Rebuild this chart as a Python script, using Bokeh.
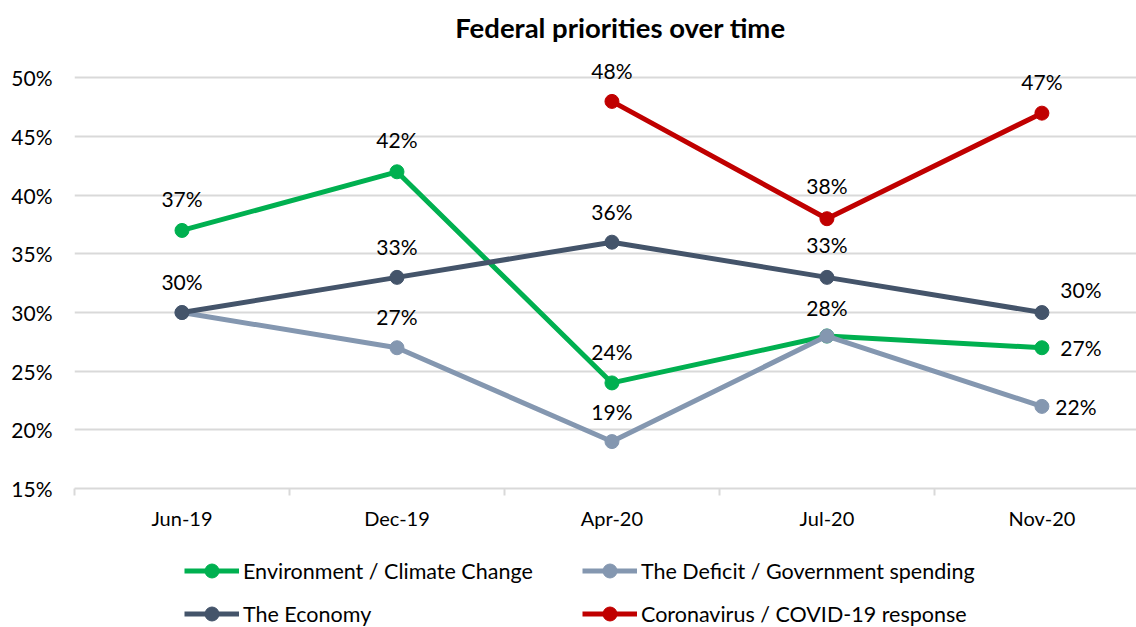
from bokeh.plotting import figure
from bokeh.layouts import column
from bokeh.models import (ColumnDataSource, FixedTicker, Legend, LegendItem, Range1d)
from bokeh.core.properties import value
from bokeh.embed import file_html
from bokeh.resources import INLINE

title_text = "Federal priorities over time"
categories = ["Jun-19", "Dec-19", "Apr-20", "Jul-20", "Nov-20"]
env = [37, 42, 24, 28, 27]
deficit = [30, 27, 19, 28, 22]
economy = [30, 33, 36, 33, 30]
covid = [None, None, 48, 38, 47]
y_ticks = [15, 20, 25, 30, 35, 40, 45, 50]

series = [
    ("Environment / Climate Change", env, "#00B050"),
    ("The Deficit / Government spending", deficit, "#8497B0"),
    ("The Economy", economy, "#44546A"),
    ("Coronavirus / COVID-19 response", covid, "#C00000"),
]

FONT = "Lato"
TOTAL_W = 1136


def blank_strip(height):
    f = figure(width=TOTAL_W, height=height, output_backend="svg", toolbar_location=None,
               x_range=Range1d(0, TOTAL_W), y_range=Range1d(height, 0),
               x_axis_location=None, y_axis_location=None,
               min_border_left=0, min_border_right=0, min_border_top=0, min_border_bottom=0,
               outline_line_color=None, background_fill_color="white",
               border_fill_color="white")
    f.grid.visible = False
    return f


# ---- title strip
pt = blank_strip(50)
pt.text(x=[584], y=[27], text=[title_text], text_align="center", text_baseline="middle",
        text_font=value(FONT), text_font_style="bold", text_font_size="27.5px",
        text_color="#000000")

# ---- main chart
p = figure(frame_width=1062, frame_height=434, output_backend="svg", toolbar_location=None,
           x_range=Range1d(-0.5, 4.44), y_range=Range1d(15, 52),
           min_border_left=74, min_border_right=0, min_border_top=4,
           min_border_bottom=52, background_fill_color="white",
           border_fill_color="white", outline_line_color=None)

p.yaxis.ticker = FixedTicker(ticks=y_ticks)
p.yaxis.major_label_overrides = {t: f"{t}%" for t in y_ticks}
p.yaxis.axis_line_color = None
p.yaxis.major_tick_line_color = None
p.yaxis.minor_tick_line_color = None
p.yaxis.major_label_standoff = 16
p.yaxis.major_label_text_font = FONT
p.yaxis.major_label_text_font_size = "21px"
p.yaxis.major_label_text_color = "#000000"

xs = list(range(len(categories)))
p.xaxis.ticker = FixedTicker(ticks=xs, minor_ticks=[i - 0.5 for i in range(len(categories) + 1)])
p.xaxis.major_label_overrides = {i: c for i, c in enumerate(categories)}
p.xaxis.axis_line_color = "#d9d9d9"
p.xaxis.axis_line_width = 2
p.xaxis.major_tick_line_color = None
p.xaxis.minor_tick_line_color = "#d9d9d9"
p.xaxis.minor_tick_line_width = 2
p.xaxis.minor_tick_out = 7
p.xaxis.minor_tick_in = 0
p.xaxis.major_label_standoff = 10
p.xaxis.major_label_text_font = FONT
p.xaxis.major_label_text_font_size = "20px"
p.xaxis.major_label_text_color = "#000000"

p.xgrid.grid_line_color = None
p.ygrid.ticker = FixedTicker(ticks=y_ticks[1:])
p.ygrid.grid_line_color = "#d9d9d9"
p.ygrid.grid_line_width = 2

for name, vals, color in series:
    xx = [x for x, v in zip(xs, vals) if v is not None]
    yy = [v for v in vals if v is not None]
    src = ColumnDataSource(dict(x=xx, y=yy))
    p.line("x", "y", source=src, line_color=color, line_width=5)
    p.scatter("x", "y", source=src, size=14, fill_color=color, line_color=color)

# data labels (offsets in screen px)
label_specs = {
    0: [(0, -32, True), (0, -32, True), (0, -31, True), (0, 0, False), (39, 0, True)],
    1: [(0, 0, False), (0, -31, True), (0, -30, True), (0, -29, True), (34, 0, True)],
    2: [(0, -31, True), (0, -31, True), (0, -31, True), (0, -33, True), (39, -23, True)],
    3: [(0, 0, False), (0, 0, False), (0, -31, True), (0, -33, True), (0, -32, True)],
}
lx, ly, lt, lxo, lyo = [], [], [], [], []
for si, (name, vals, color) in enumerate(series):
    for i, v in enumerate(vals):
        xo, yo, show = label_specs[si][i]
        if v is None or not show:
            continue
        lx.append(i); ly.append(v); lt.append(f"{v}%"); lxo.append(xo); lyo.append(yo)
lsrc = ColumnDataSource(dict(x=lx, y=ly, text=lt, xo=lxo, yo=lyo))
p.text("x", "y", text="text", source=lsrc, x_offset="xo", y_offset="yo",
       text_align="center", text_baseline="middle", text_font=value(FONT),
       text_font_size="21px", text_color="#000000")

# ---- legend strip
p2 = blank_strip(87)
items = []
for name, vals, color in series:
    hidden = ColumnDataSource(dict(x=[-100], y=[-100]))
    r1 = p2.line("x", "y", source=hidden, line_color=color, line_width=5)
    r2 = p2.scatter("x", "y", source=hidden, size=14, fill_color=color, line_color=color)
    items.append(LegendItem(label=name, renderers=[r1, r2]))

legend = Legend(items=items, orientation="horizontal", ncols=2,
                glyph_width=55, glyph_height=35, label_height=35, label_standoff=4,
                label_width=331, spacing=8, padding=0, margin=0,
                border_line_color=None, background_fill_alpha=0,
                label_text_font=FONT, label_text_font_size="21.5px",
                label_text_color="#000000", location=(110, -4))
p2.add_layout(legend, "center")

layout = column(pt, p, p2, spacing=0)
open("out.html", "w").write(file_html(layout, INLINE))
